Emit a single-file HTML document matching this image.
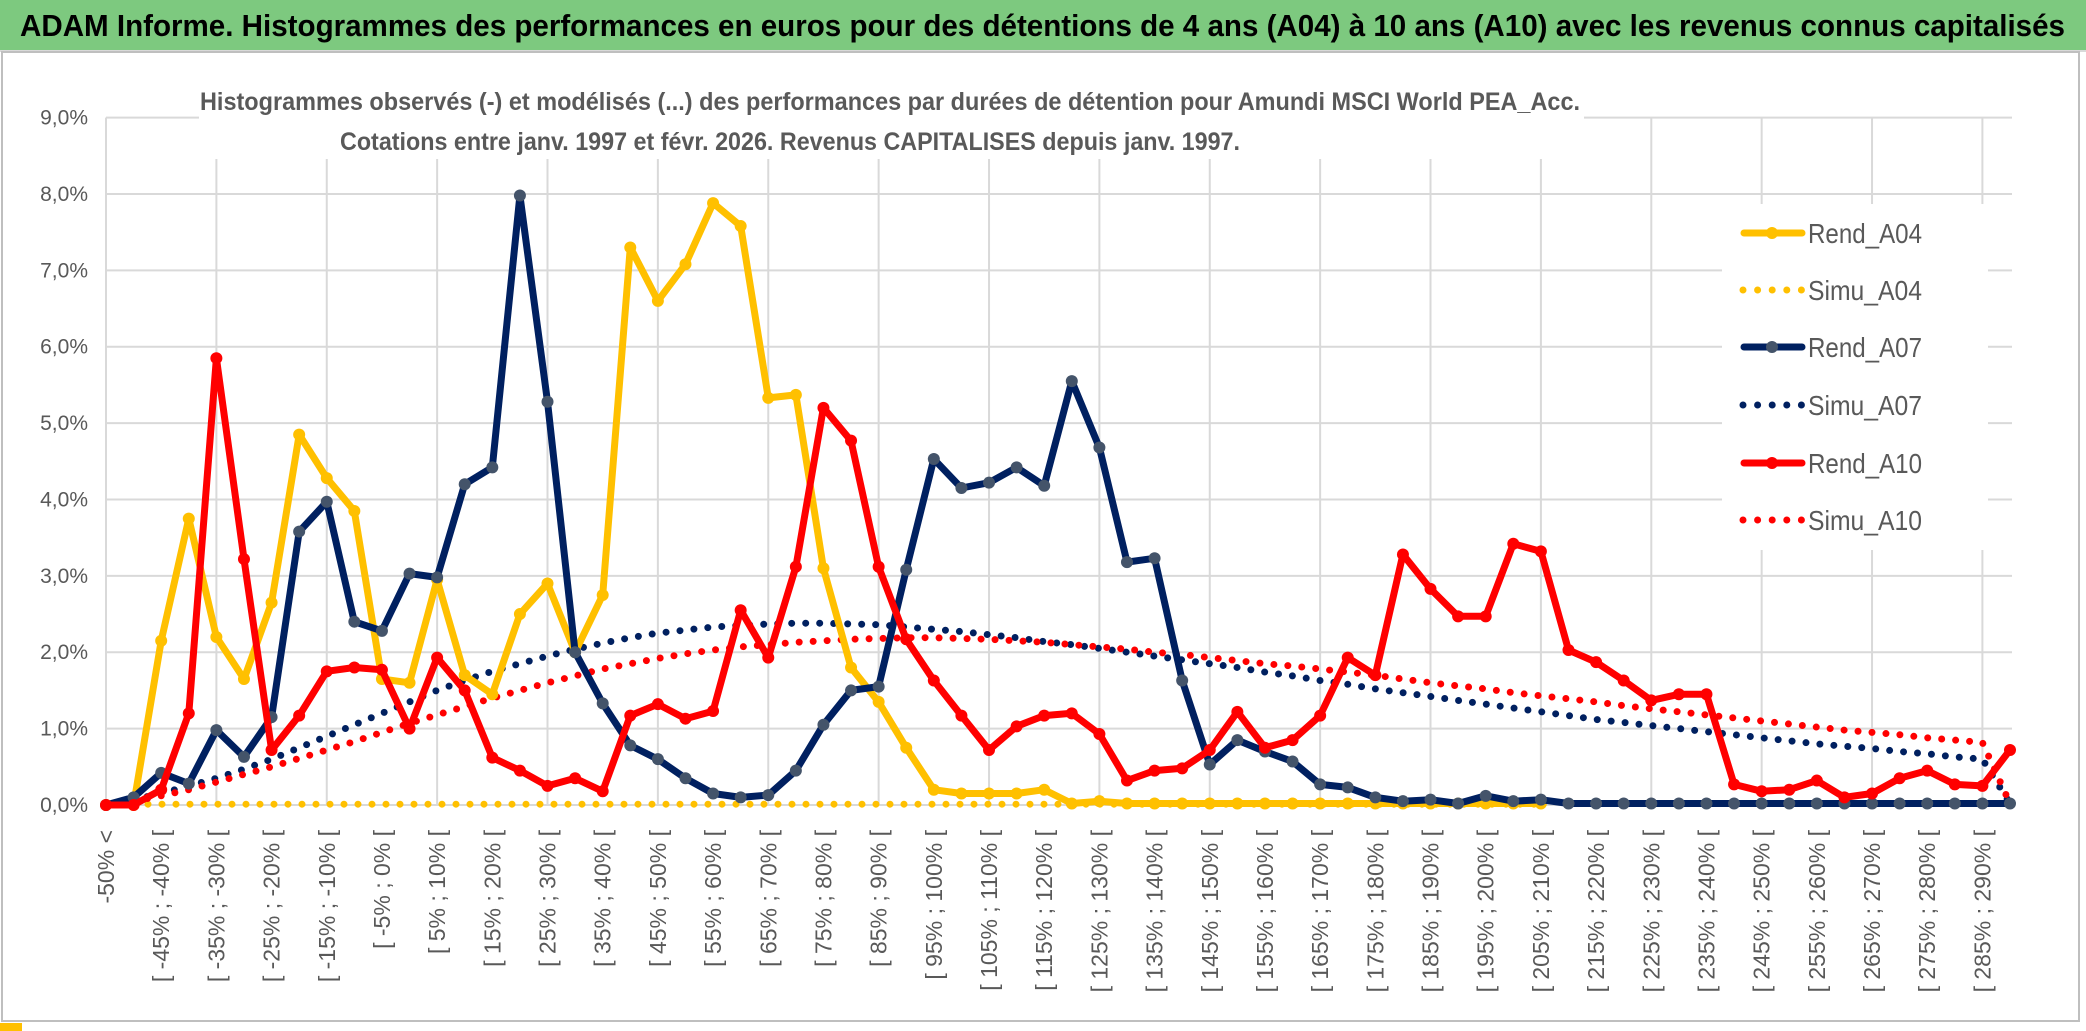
<!DOCTYPE html>
<html><head><meta charset="utf-8">
<style>
html,body{margin:0;padding:0;background:#fff;}
svg{display:block;font-family:"Liberation Sans Narrow","Liberation Sans",sans-serif;}
</style></head>
<body>
<svg id="chart" width="2086" height="1031" viewBox="0 0 2086 1031" xmlns="http://www.w3.org/2000/svg">
  <rect x="0" y="0" width="2086" height="1031" fill="#fff"/>
  <rect x="0" y="0" width="2086" height="50" fill="#7DC97F"/>
  <line x1="0" y1="51" x2="2086" y2="51" stroke="#d9d9d9" stroke-width="2"/>
  <text x="20" y="36" font-size="31" font-weight="bold" fill="#000" textLength="2045" lengthAdjust="spacingAndGlyphs">ADAM Informe. Histogrammes des performances en euros pour des détentions de 4 ans (A04) à 10 ans (A10) avec les revenus connus capitalisés</text>
  <rect x="2" y="52" width="2077" height="969" fill="none" stroke="#bfbfbf" stroke-width="2"/>
  <rect x="0" y="1023" width="22" height="8" fill="#FFC000"/>
  <g id="grid"></g>
  <g id="yaxis"></g>
  <g id="xaxis"></g>
  <rect x="199" y="84" width="1385" height="75" fill="#fff"/>
  <text x="890" y="110" font-size="25" font-weight="bold" fill="#595959" text-anchor="middle" textLength="1380" lengthAdjust="spacingAndGlyphs">Histogrammes observés (-) et modélisés (...) des performances par durées de détention pour Amundi MSCI World PEA_Acc.</text>
  <text x="790" y="150" font-size="25" font-weight="bold" fill="#595959" text-anchor="middle" textLength="900" lengthAdjust="spacingAndGlyphs">Cotations entre janv. 1997 et févr. 2026. Revenus CAPITALISES depuis janv. 1997.</text>
  <g id="series"></g>
  <rect x="1722" y="204" width="266" height="346" fill="#fff"/>
  <g id="legend"></g>
</svg>
<script>
const categories = ["-50% <"];
for (let v = -50; v <= 290; v += 5) categories.push("[ " + v + "% ; " + (v + 5) + "% [");
const yTicks = [0,1,2,3,4,5,6,7,8,9];
const yTickLabels = ["0,0%","1,0%","2,0%","3,0%","4,0%","5,0%","6,0%","7,0%","8,0%","9,0%"];
const rendA04 = [0,0,2.15,3.75,2.2,1.65,2.65,4.85,4.28,3.85,1.65,1.6,2.95,1.7,1.45,2.5,2.9,2.0,2.75,7.3,6.6,7.08,7.88,7.58,5.33,5.37,3.1,1.8,1.35,0.75,0.2,0.15,0.15,0.15,0.2,0.02,0.05,0.02,0.02,0.02,0.02,0.02,0.02,0.02,0.02,0.02,0.02,0.02,0.02,0.02,0.02,0.02,0.02,null,null,null,null,null,null,null,null,null,null,null,null,null,null,null,null,null];
const simuA04 = [0,0.01,0.01,0.01,0.01,0.01,0.01,0.01,0.01,0.01,0.01,0.01,0.01,0.01,0.01,0.01,0.01,0.01,0.01,0.01,0.01,0.01,0.01,0.01,0.01,0.01,0.01,0.01,0.01,0.01,0.01,0.01,0.01,0.01,0.01,0.01,0.01,0.01,0.01,0.01,0.01,0.01,0.01,0.01,0.01,0.01,0.01,0.01,0.01,0.01,0.01,0.01,0.01,null,null,null,null,null,null,null,null,null,null,null,null,null,null,null,null,null];
const rendA07 = [0,0.1,0.42,0.28,0.98,0.63,1.15,3.58,3.97,2.4,2.28,3.03,2.98,4.2,4.42,7.98,5.28,2.0,1.33,0.78,0.6,0.35,0.15,0.1,0.13,0.45,1.05,1.5,1.55,3.08,4.53,4.15,4.22,4.42,4.18,5.55,4.68,3.18,3.23,1.63,0.53,0.85,0.7,0.57,0.27,0.23,0.1,0.05,0.07,0.02,0.12,0.05,0.07,0.02,0.02,0.02,0.02,0.02,0.02,0.02,0.02,0.02,0.02,0.02,0.02,0.02,0.02,0.02,0.02,0.02];
const simuA07 = [0,0.07,0.15,0.25,0.35,0.47,0.6,0.75,0.9,1.05,1.2,1.35,1.5,1.63,1.75,1.85,1.95,2.04,2.12,2.19,2.25,2.29,2.33,2.35,2.37,2.38,2.38,2.37,2.36,2.33,2.3,2.27,2.23,2.19,2.14,2.1,2.05,2.0,1.95,1.9,1.85,1.8,1.74,1.69,1.63,1.58,1.52,1.47,1.42,1.37,1.32,1.27,1.22,1.17,1.12,1.08,1.04,1.0,0.96,0.92,0.88,0.84,0.8,0.77,0.74,0.7,0.67,0.63,0.6,0.02];
const rendA10 = [0,0,0.2,1.2,5.85,3.22,0.72,1.17,1.75,1.8,1.77,1.0,1.93,1.5,0.62,0.45,0.25,0.35,0.18,1.17,1.32,1.13,1.23,2.55,1.93,3.12,5.2,4.77,3.12,2.17,1.63,1.17,0.72,1.03,1.17,1.2,0.93,0.32,0.45,0.48,0.72,1.22,0.75,0.85,1.17,1.93,1.7,3.28,2.83,2.47,2.47,3.42,3.32,2.03,1.87,1.63,1.37,1.45,1.45,0.27,0.18,0.2,0.32,0.1,0.15,0.35,0.45,0.27,0.25,0.72];
const simuA10 = [0,0.05,0.12,0.2,0.3,0.4,0.5,0.61,0.72,0.83,0.95,1.07,1.18,1.29,1.4,1.5,1.6,1.69,1.78,1.85,1.92,1.98,2.03,2.07,2.1,2.13,2.15,2.17,2.18,2.19,2.19,2.18,2.17,2.15,2.13,2.1,2.07,2.04,2.0,1.97,1.93,1.89,1.85,1.82,1.78,1.74,1.7,1.65,1.6,1.56,1.52,1.47,1.43,1.39,1.35,1.3,1.26,1.22,1.18,1.14,1.1,1.06,1.02,0.98,0.95,0.92,0.88,0.85,0.82,0.02];

const NS = "http://www.w3.org/2000/svg";
const L = 106, R = 2010, T = 117.6, B = 805, YMAX = 9;
const xs = i => L + i * (R - L) / (categories.length - 1);
const ys = v => B - v / YMAX * (B - T);
function mk(tag, attrs, parent) {
  const e = document.createElementNS(NS, tag);
  for (const k in attrs) e.setAttribute(k, attrs[k]);
  parent.appendChild(e);
  return e;
}
const grid = document.getElementById("grid");
const yaxis = document.getElementById("yaxis");
const xaxis = document.getElementById("xaxis");
yTicks.forEach((t, k) => {
  const gl = mk("line", {x1: L, x2: R + 2, y1: ys(t), y2: ys(t), stroke: "#d9d9d9", "stroke-width": 2}, grid);
  
  
  const tx = mk("text", {x: 88, y: ys(t) + 7, "font-size": 21, fill: "#595959", "text-anchor": "end"}, yaxis);
  tx.textContent = yTickLabels[k];
  
  
});
for (let i = 0; i < categories.length; i += 4) {
  const vl = mk("line", {x1: xs(i), x2: xs(i), y1: T, y2: B, stroke: "#d9d9d9", "stroke-width": 2}, grid);
  
  
}
categories.forEach((c, i) => {
  if (i % 2 !== 0) return;
  const x = xs(i) + 8, y = 830;
  const tx = mk("text", {x: x, y: y, "font-size": 23, fill: "#595959", "text-anchor": "end", transform: "rotate(-90 " + x + " " + y + ")"}, xaxis);
  tx.textContent = c;
  
  
});
const series = document.getElementById("series");
function pathFor(vals) {
  let d = "", pen = false;
  vals.forEach((v, i) => {
    if (v === null) { pen = false; return; }
    d += (pen ? "L" : "M") + xs(i).toFixed(1) + " " + ys(v).toFixed(1) + " ";
    pen = true;
  });
  return d;
}
function dotted(vals, color, name) {
  const p = mk("path", {d: pathFor(vals), fill: "none", stroke: color, "stroke-width": 7, "stroke-linecap": "round", "stroke-dasharray": "0 14"}, series);
  
  
}
function solid(vals, color, mcolor, name) {
  const g = mk("g", {}, series);
  
  
  mk("path", {d: pathFor(vals), fill: "none", stroke: color, "stroke-width": 7, "stroke-linejoin": "round"}, g);
  vals.forEach((v, i) => {
    if (v === null) return;
    const c = mk("circle", {cx: xs(i), cy: ys(v), r: 6, fill: mcolor}, g);
    
    
  });
}
dotted(simuA04, "#FFC000", "simu-a04-line");
dotted(simuA07, "#002060", "simu-a07-line");
dotted(simuA10, "#FF0000", "simu-a10-line");
solid(rendA04, "#FFC000", "#FFC000", "rend-a04-line");
solid(rendA07, "#002060", "#44546A", "rend-a07-line");
solid(rendA10, "#FF0000", "#FF0000", "rend-a10-line");

const legend = document.getElementById("legend");
const legItems = [
  ["Rend_A04", "#FFC000", "#FFC000", false, 233],
  ["Simu_A04", "#FFC000", null, true, 290],
  ["Rend_A07", "#002060", "#44546A", false, 347],
  ["Simu_A07", "#002060", null, true, 405],
  ["Rend_A10", "#FF0000", "#FF0000", false, 463],
  ["Simu_A10", "#FF0000", null, true, 520]
];
legItems.forEach(it => {
  const g = mk("g", {}, legend);
  
  
  const y = it[4];
  if (it[3]) {
    mk("line", {x1: 1743, x2: 1802, y1: y, y2: y, stroke: it[1], "stroke-width": 7, "stroke-linecap": "round", "stroke-dasharray": "0 14.6"}, g);
  } else {
    mk("line", {x1: 1744, x2: 1802, y1: y, y2: y, stroke: it[1], "stroke-width": 7, "stroke-linecap": "round"}, g);
    mk("circle", {cx: 1772, cy: y, r: 6, fill: it[2]}, g);
  }
  const t = mk("text", {x: 1808, y: y + 10, "font-size": 28, fill: "#595959", textLength: 114, lengthAdjust: "spacingAndGlyphs"}, g);
  t.textContent = it[0];
});
</script>
</body></html>
